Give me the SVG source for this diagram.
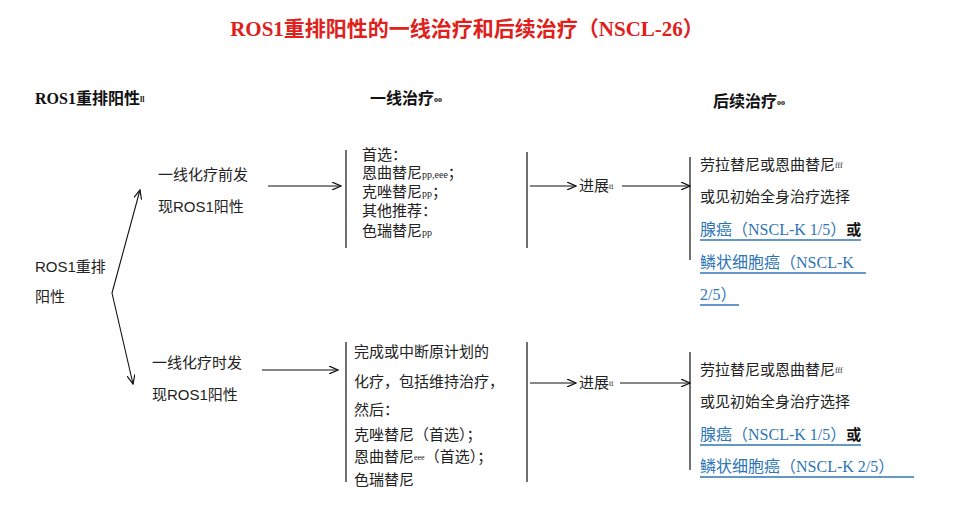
<svg xmlns="http://www.w3.org/2000/svg" width="964" height="515" viewBox="0 0 964 515">
<defs><marker id="ah" markerWidth="10" markerHeight="8" refX="9" refY="4" orient="auto" markerUnits="userSpaceOnUse"><path d="M0,0 L9,4 L0,8" fill="none" stroke="#111" stroke-width="1.2"/></marker></defs>
<style>
text{font-family:"Liberation Sans","Noto Sans CJK SC",sans-serif;font-size:15px;fill:#222}
.h{font-weight:bold;font-size:16px;fill:#111}
.s{font-size:10px;font-family:"Liberation Serif",serif}
.up{font-size:8px;font-family:"Liberation Serif",serif;baseline-shift:30%}
.b{fill:#2e75b6;font-family:"Liberation Serif","Noto Sans CJK SC",serif;font-size:16px}
.u{stroke:#2e75b6;stroke-width:1.5}
.l{stroke:#111;stroke-width:1.2;fill:none}
.a{stroke:#111;stroke-width:1.1;fill:none;marker-end:url(#ah)}
</style>
<rect width="964" height="515" fill="#fff"/>
<text x="467" y="36" text-anchor="middle" style="font-weight:bold;font-size:21px;fill:#e0201b;font-family:'Liberation Serif','Noto Sans CJK SC',serif">ROS1重排阳性的一线治疗和后续治疗（NSCL-26）</text>
<text class="h" x="35" y="104" style="font-family:'Liberation Serif','Noto Sans CJK SC',serif">ROS1重排阳性<tspan class="up">ll</tspan></text>
<text class="h" x="370" y="104">一线治疗<tspan class="up">oo</tspan></text>
<text class="h" x="713" y="107">后续治疗<tspan class="up">oo</tspan></text>
<g id="root"><text x="35" y="272">ROS1重排</text><text x="35" y="302">阳性</text></g>
<g id="n1"><text x="158" y="180">一线化疗前发</text><text x="158" y="212">现ROS1阳性</text></g>
<g id="n2"><text x="152" y="368">一线化疗时发</text><text x="152" y="400">现ROS1阳性</text></g>
<g id="t1"><text x="362" y="160">首选：</text><text x="362" y="178">恩曲替尼<tspan class="s">pp,eee</tspan>；</text><text x="362" y="197">克唑替尼<tspan class="s">pp</tspan>；</text><text x="362" y="216">其他推荐：</text><text x="362" y="236">色瑞替尼<tspan class="s">pp</tspan></text></g>
<g id="t2"><text x="354" y="357">完成或中断原计划的</text><text x="354" y="387">化疗，包括维持治疗，</text><text x="354" y="415">然后：</text><text x="354" y="440">克唑替尼（首选）；</text><text x="354" y="462">恩曲替尼<tspan class="up">eee</tspan>（首选）；</text><text x="354" y="485">色瑞替尼</text></g>
<g id="p1"><text x="579" y="191">进展<tspan class="up">tt</tspan></text></g>
<g id="p2"><text x="579" y="388">进展<tspan class="up">tt</tspan></text></g>
<g id="s1"><text x="700" y="170">劳拉替尼或恩曲替尼<tspan class="up">fff</tspan></text><text x="700" y="202">或见初始全身治疗选择</text><text x="700" y="235"><tspan class="b">腺癌（NSCL-K  1/5）</tspan><tspan style="font-weight:bold;fill:#111">或</tspan></text><text class="b" x="700" y="268">鳞状细胞癌（NSCL-K</text><text class="b" x="700" y="300">2/5）</text>
<line class="u" x1="700" y1="240" x2="861" y2="240"/><line class="u" x1="700" y1="273" x2="866" y2="273"/><line class="u" x1="700" y1="305" x2="739" y2="305"/></g>
<g id="s2"><text x="700" y="375">劳拉替尼或恩曲替尼<tspan class="up">fff</tspan></text><text x="700" y="407">或见初始全身治疗选择</text><text x="700" y="440"><tspan class="b">腺癌（NSCL-K  1/5）</tspan><tspan style="font-weight:bold;fill:#111">或</tspan></text><text class="b" x="700" y="472">鳞状细胞癌（NSCL-K  2/5）</text>
<line class="u" x1="700" y1="445" x2="861" y2="445"/><line class="u" x1="700" y1="477" x2="914" y2="477"/></g>
<g id="connectors">
<path class="a" d="M112,293 L140,190"/><path class="a" d="M112,293 L133,384"/>
<path class="a" d="M268,186 L341,186"/><path class="a" d="M262,370 L338,370"/>
<line class="l" x1="346" y1="150" x2="346" y2="248"/><line class="l" x1="346" y1="342" x2="346" y2="482"/>
<line class="l" x1="527" y1="152" x2="527" y2="248"/><line class="l" x1="527" y1="342" x2="527" y2="482"/>
<path class="a" d="M530,186 L576,186"/><path class="a" d="M530,383 L576,383"/>
<path class="a" d="M622,186 L690,186"/><path class="a" d="M620,383 L690,383"/>
<line class="l" x1="690" y1="157" x2="690" y2="260"/><line class="l" x1="690" y1="352" x2="690" y2="470"/>
</g>
</svg>
